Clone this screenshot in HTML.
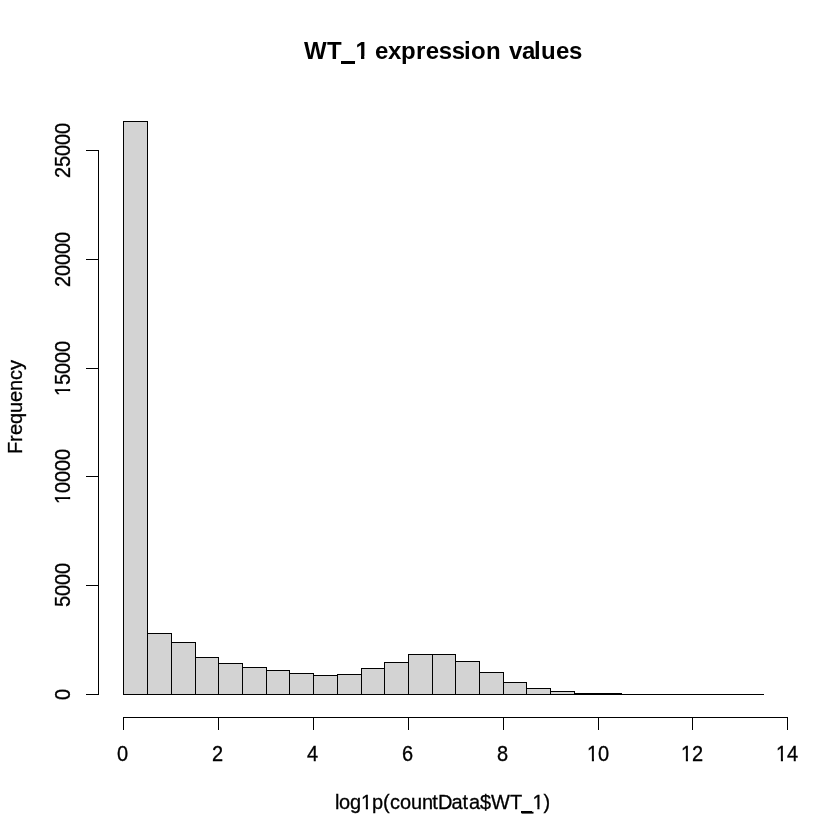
<!DOCTYPE html>
<html><head><meta charset="utf-8"><title>WT_1 expression values</title>
<style>
html,body{margin:0;padding:0;background:#fff;}
svg{display:block;}
text{font-family:"Liberation Sans",Arial,sans-serif;fill:#000;}
</style></head><body>
<svg width="840" height="840" viewBox="0 0 840 840">
<rect x="0" y="0" width="840" height="840" fill="#ffffff"/>
<g shape-rendering="crispEdges" fill="#000">
<rect x="123" y="121" width="25" height="574" fill="#d3d3d3"/>
<rect x="147" y="633" width="25" height="62" fill="#d3d3d3"/>
<rect x="171" y="642" width="25" height="53" fill="#d3d3d3"/>
<rect x="195" y="657" width="24" height="38" fill="#d3d3d3"/>
<rect x="218" y="663" width="25" height="32" fill="#d3d3d3"/>
<rect x="242" y="667" width="25" height="28" fill="#d3d3d3"/>
<rect x="266" y="670" width="24" height="25" fill="#d3d3d3"/>
<rect x="289" y="673" width="25" height="22" fill="#d3d3d3"/>
<rect x="313" y="675" width="25" height="20" fill="#d3d3d3"/>
<rect x="337" y="674" width="25" height="21" fill="#d3d3d3"/>
<rect x="361" y="668" width="24" height="27" fill="#d3d3d3"/>
<rect x="384" y="662" width="25" height="33" fill="#d3d3d3"/>
<rect x="408" y="654" width="25" height="41" fill="#d3d3d3"/>
<rect x="432" y="654" width="24" height="41" fill="#d3d3d3"/>
<rect x="455" y="661" width="25" height="34" fill="#d3d3d3"/>
<rect x="479" y="672" width="25" height="23" fill="#d3d3d3"/>
<rect x="503" y="682" width="24" height="13" fill="#d3d3d3"/>
<rect x="526" y="688" width="25" height="7" fill="#d3d3d3"/>
<rect x="550" y="691" width="25" height="4" fill="#d3d3d3"/>
<rect x="574" y="693" width="25" height="2" fill="#d3d3d3"/>
<rect x="598" y="693" width="24" height="2" fill="#d3d3d3"/>
<rect x="123" y="121" width="25" height="1"/>
<rect x="123" y="694" width="25" height="1"/>
<rect x="123" y="121" width="1" height="574"/>
<rect x="147" y="121" width="1" height="574"/>
<rect x="147" y="633" width="25" height="1"/>
<rect x="147" y="694" width="25" height="1"/>
<rect x="147" y="633" width="1" height="62"/>
<rect x="171" y="633" width="1" height="62"/>
<rect x="171" y="642" width="25" height="1"/>
<rect x="171" y="694" width="25" height="1"/>
<rect x="171" y="642" width="1" height="53"/>
<rect x="195" y="642" width="1" height="53"/>
<rect x="195" y="657" width="24" height="1"/>
<rect x="195" y="694" width="24" height="1"/>
<rect x="195" y="657" width="1" height="38"/>
<rect x="218" y="657" width="1" height="38"/>
<rect x="218" y="663" width="25" height="1"/>
<rect x="218" y="694" width="25" height="1"/>
<rect x="218" y="663" width="1" height="32"/>
<rect x="242" y="663" width="1" height="32"/>
<rect x="242" y="667" width="25" height="1"/>
<rect x="242" y="694" width="25" height="1"/>
<rect x="242" y="667" width="1" height="28"/>
<rect x="266" y="667" width="1" height="28"/>
<rect x="266" y="670" width="24" height="1"/>
<rect x="266" y="694" width="24" height="1"/>
<rect x="266" y="670" width="1" height="25"/>
<rect x="289" y="670" width="1" height="25"/>
<rect x="289" y="673" width="25" height="1"/>
<rect x="289" y="694" width="25" height="1"/>
<rect x="289" y="673" width="1" height="22"/>
<rect x="313" y="673" width="1" height="22"/>
<rect x="313" y="675" width="25" height="1"/>
<rect x="313" y="694" width="25" height="1"/>
<rect x="313" y="675" width="1" height="20"/>
<rect x="337" y="675" width="1" height="20"/>
<rect x="337" y="674" width="25" height="1"/>
<rect x="337" y="694" width="25" height="1"/>
<rect x="337" y="674" width="1" height="21"/>
<rect x="361" y="674" width="1" height="21"/>
<rect x="361" y="668" width="24" height="1"/>
<rect x="361" y="694" width="24" height="1"/>
<rect x="361" y="668" width="1" height="27"/>
<rect x="384" y="668" width="1" height="27"/>
<rect x="384" y="662" width="25" height="1"/>
<rect x="384" y="694" width="25" height="1"/>
<rect x="384" y="662" width="1" height="33"/>
<rect x="408" y="662" width="1" height="33"/>
<rect x="408" y="654" width="25" height="1"/>
<rect x="408" y="694" width="25" height="1"/>
<rect x="408" y="654" width="1" height="41"/>
<rect x="432" y="654" width="1" height="41"/>
<rect x="432" y="654" width="24" height="1"/>
<rect x="432" y="694" width="24" height="1"/>
<rect x="432" y="654" width="1" height="41"/>
<rect x="455" y="654" width="1" height="41"/>
<rect x="455" y="661" width="25" height="1"/>
<rect x="455" y="694" width="25" height="1"/>
<rect x="455" y="661" width="1" height="34"/>
<rect x="479" y="661" width="1" height="34"/>
<rect x="479" y="672" width="25" height="1"/>
<rect x="479" y="694" width="25" height="1"/>
<rect x="479" y="672" width="1" height="23"/>
<rect x="503" y="672" width="1" height="23"/>
<rect x="503" y="682" width="24" height="1"/>
<rect x="503" y="694" width="24" height="1"/>
<rect x="503" y="682" width="1" height="13"/>
<rect x="526" y="682" width="1" height="13"/>
<rect x="526" y="688" width="25" height="1"/>
<rect x="526" y="694" width="25" height="1"/>
<rect x="526" y="688" width="1" height="7"/>
<rect x="550" y="688" width="1" height="7"/>
<rect x="550" y="691" width="25" height="1"/>
<rect x="550" y="694" width="25" height="1"/>
<rect x="550" y="691" width="1" height="4"/>
<rect x="574" y="691" width="1" height="4"/>
<rect x="574" y="693" width="25" height="1"/>
<rect x="574" y="694" width="25" height="1"/>
<rect x="574" y="693" width="1" height="2"/>
<rect x="598" y="693" width="1" height="2"/>
<rect x="598" y="693" width="24" height="1"/>
<rect x="598" y="694" width="24" height="1"/>
<rect x="598" y="693" width="1" height="2"/>
<rect x="621" y="693" width="1" height="2"/>
<rect x="621" y="694" width="25" height="1"/>
<rect x="621" y="694" width="25" height="1"/>
<rect x="645" y="694" width="25" height="1"/>
<rect x="645" y="694" width="25" height="1"/>
<rect x="669" y="694" width="24" height="1"/>
<rect x="669" y="694" width="24" height="1"/>
<rect x="692" y="694" width="25" height="1"/>
<rect x="692" y="694" width="25" height="1"/>
<rect x="716" y="694" width="25" height="1"/>
<rect x="716" y="694" width="25" height="1"/>
<rect x="740" y="694" width="24" height="1"/>
<rect x="740" y="694" width="24" height="1"/>
<rect x="123" y="717" width="665" height="1"/>
<rect x="123" y="717" width="1" height="13"/>
<rect x="218" y="717" width="1" height="13"/>
<rect x="313" y="717" width="1" height="13"/>
<rect x="408" y="717" width="1" height="13"/>
<rect x="503" y="717" width="1" height="13"/>
<rect x="598" y="717" width="1" height="13"/>
<rect x="692" y="717" width="1" height="13"/>
<rect x="787" y="717" width="1" height="13"/>
<rect x="98" y="150" width="1" height="545"/>
<rect x="86" y="694" width="13" height="1"/>
<rect x="86" y="585" width="13" height="1"/>
<rect x="86" y="476" width="13" height="1"/>
<rect x="86" y="368" width="13" height="1"/>
<rect x="86" y="259" width="13" height="1"/>
<rect x="86" y="150" width="13" height="1"/>
</g>
<g font-size="20" stroke="#000" stroke-width="0.3">
<text transform="translate(0,761) scale(1,1.08)" x="117">0</text>
<text transform="translate(0,761) scale(1,1.08)" x="212">2</text>
<text transform="translate(0,761) scale(1,1.08)" x="307">4</text>
<text transform="translate(0,761) scale(1,1.08)" x="402">6</text>
<text transform="translate(0,761) scale(1,1.08)" x="497">8</text>
<text transform="translate(0,761) scale(1,1.08)" x="587 598">10</text>
<text transform="translate(0,761) scale(1,1.08)" x="681 692">12</text>
<text transform="translate(0,761) scale(1,1.08)" x="776 787">14</text>
<text transform="translate(70,700) rotate(-90) scale(1,1.08)" x="0">0</text>
<text transform="translate(70,607) rotate(-90) scale(1,1.08)" x="0 11 22 33">5000</text>
<text transform="translate(70,504) rotate(-90) scale(1,1.08)" x="0 11 22 33 44">10000</text>
<text transform="translate(70,396) rotate(-90) scale(1,1.08)" x="0 11 22 33 44">15000</text>
<text transform="translate(70,287) rotate(-90) scale(1,1.08)" x="0 11 22 33 44">20000</text>
<text transform="translate(70,178) rotate(-90) scale(1,1.08)" x="0 11 22 33 44">25000</text>
<text transform="translate(0,809) scale(1,1.045)" x="335 339 350 361 372 383 390 400 411 422 432.3 438 451.6 462.4 469 480 491 510 522 532.5 543.5">log1p(countData$WT_1)</text>
<text transform="translate(22,454) rotate(-90) scale(1,1.045)" x="0 12 19 30 41 52 63 74 84">Frequency</text>
<text transform="translate(0,59) scale(1,1.02)" x="304 327 341.4 355.4 368 375 388 401 416 425.7 438.7 451.7 464 471 486 501 509 522 534 541 556 569" font-size="24" font-weight="bold" stroke="none">WT_1 expression values</text>
</g>
<g fill="#fff">
<g transform="translate(0,761)"><rect x="587.40" y="-2.07" width="4.46" height="3.07"/><rect x="593.97" y="-2.07" width="4.13" height="3.07"/></g>
<g transform="translate(0,761)"><rect x="681.40" y="-2.07" width="4.46" height="3.07"/><rect x="687.97" y="-2.07" width="4.13" height="3.07"/></g>
<g transform="translate(0,761)"><rect x="776.40" y="-2.07" width="4.46" height="3.07"/><rect x="782.97" y="-2.07" width="4.13" height="3.07"/></g>
<g transform="translate(70,504) rotate(-90)"><rect x="0.40" y="-2.07" width="4.46" height="3.07"/><rect x="6.97" y="-2.07" width="4.13" height="3.07"/></g>
<g transform="translate(70,396) rotate(-90)"><rect x="0.40" y="-2.07" width="4.46" height="3.07"/><rect x="6.97" y="-2.07" width="4.13" height="3.07"/></g>
<g transform="translate(0,809)"><rect x="361.40" y="-2.02" width="4.46" height="3.02"/><rect x="367.97" y="-2.02" width="4.13" height="3.02"/><rect x="532.90" y="-2.02" width="4.46" height="3.02"/><rect x="539.47" y="-2.02" width="4.13" height="3.02"/></g>
<g transform="translate(0,59)"><rect x="355.70" y="-3.00" width="5.30" height="4.00"/><rect x="364.30" y="-3.00" width="5.30" height="4.00"/></g>
</g>
<g fill="#000" shape-rendering="crispEdges">
<rect x="341" y="61" width="14" height="3"/>
<rect x="521" y="811" width="11" height="2"/>
</g>
</svg>
</body></html>
